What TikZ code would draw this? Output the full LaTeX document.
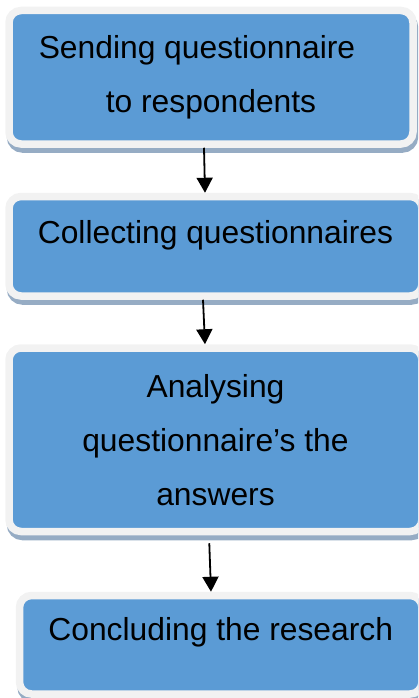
\documentclass[tikz,border=0pt]{standalone}
\usepackage{fontspec}
\setmainfont{Liberation Sans}
\usetikzlibrary{arrows.meta,shadows}
\definecolor{boxblue}{RGB}{91,155,213}
\definecolor{boxrim}{RGB}{242,242,242}
\definecolor{boxshade}{RGB}{150,172,196}
\tikzstyle{arrowline} = [line width=1.8pt, -{Triangle[width=16pt,length=15pt]}]
\tikzstyle{stepbox} = [rectangle, rounded corners=12pt, fill=boxblue, draw=boxrim,
  line width=7.5pt, align=center, font=\fontsize{31.8}{54}\selectfont,
  drop shadow={shadow xshift=1.5pt, shadow yshift=-5pt, fill=boxshade, draw=boxshade, opacity=1}]

\begin{document}
\begin{tikzpicture}[x=1pt,y=-1pt]
        \useasboundingbox (0,0) rectangle (418,698);
        \clip (0,0) rectangle (418,698);
        % steps
        \node [stepbox, minimum width=404pt, minimum height=133.5pt] (send) at (211,77.25)
            {Sending questionnaire\hspace*{28pt}\\to respondents};
        \node [stepbox, minimum width=413pt, minimum height=99.5pt, text height=23pt, text depth=29.5pt] (collect) at (215.5,246.25)
            {Collecting questionnaires};
        \node [stepbox, minimum width=413pt, minimum height=183.5pt] (analyse) at (215.5,439.75)
            {Analysing\\questionnaire’s the\\answers};
        \node [stepbox, minimum width=402.5pt, minimum height=98.5pt, text height=23pt, text depth=32.5pt] (conclude) at (220.75,644.75)
            {Concluding the research};
        % arrows
        \draw [arrowline] (send.south -| 204,0) -- (collect.north -| 205,0);
        \draw [arrowline] (collect.south -| 203,0) -- (analyse.north -| 205,0);
        \draw [arrowline, shorten <=8pt] (analyse.south -| 209,0) -- (conclude.north -| 211,0);
\end{tikzpicture}
\end{document}
